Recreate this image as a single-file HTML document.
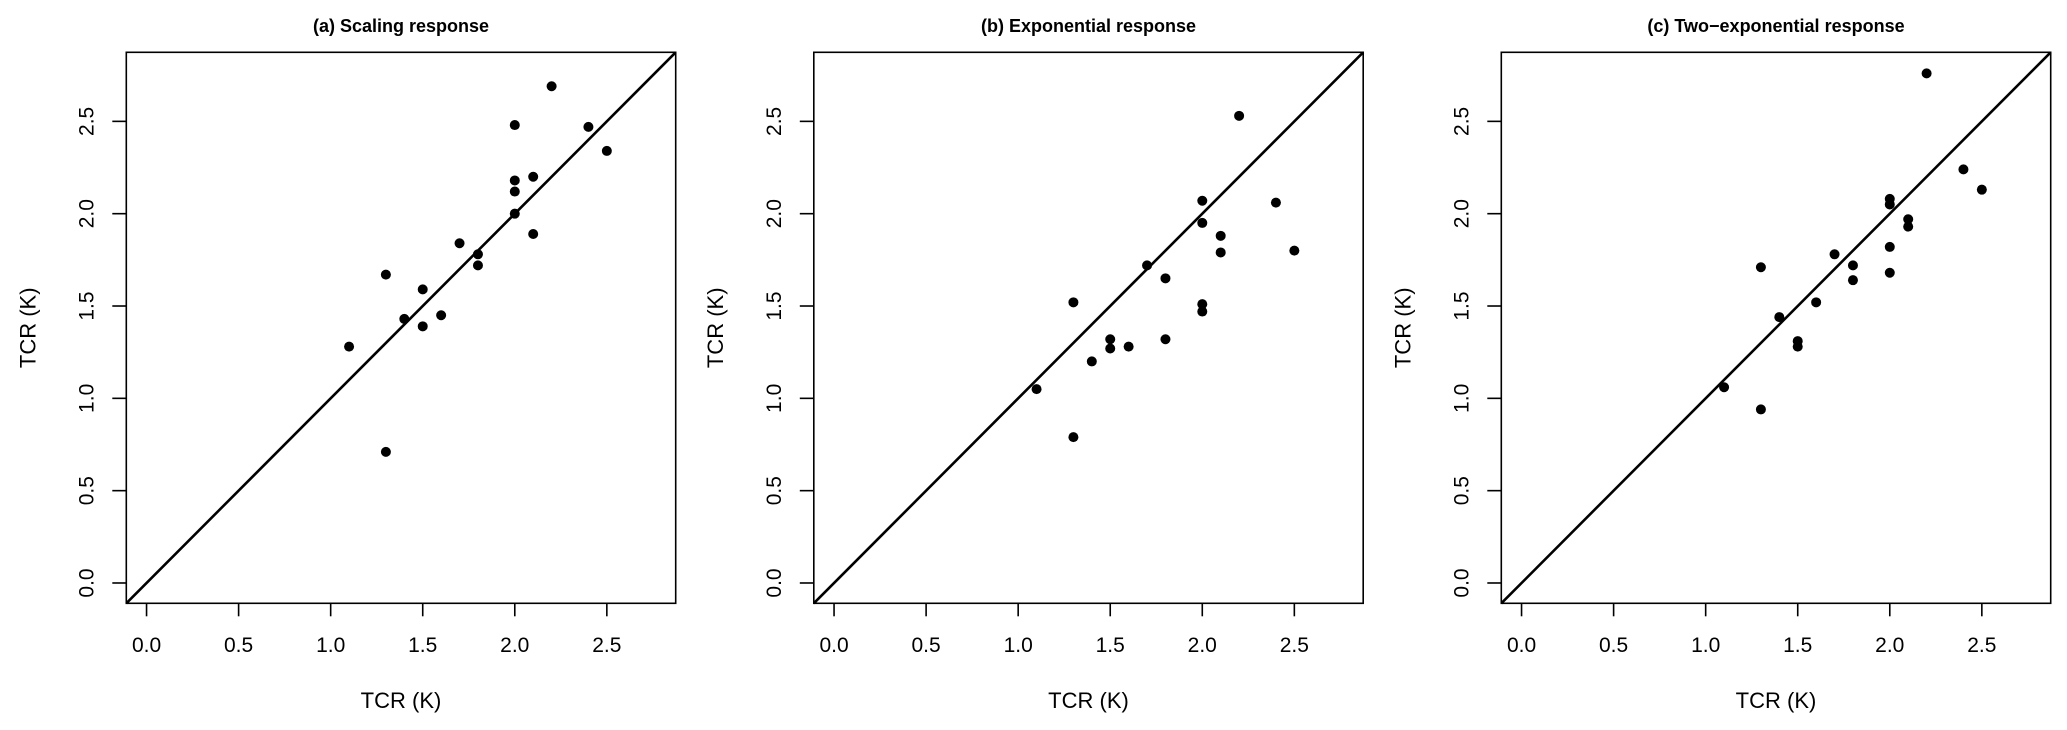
<!DOCTYPE html>
<html><head><meta charset="utf-8"><style>
html,body{margin:0;padding:0;background:#fff;}
svg{display:block;font-family:"Liberation Sans",Arial,sans-serif;}
</style></head><body>
<svg id="chart" width="2067" height="730" viewBox="0 0 2067 730" xmlns="http://www.w3.org/2000/svg"></svg>
<script>
const panelTitles = ["(a) Scaling response","(b) Exponential response","(c) Two\u2212exponential response"];
const tickValues = [0,0.5,1,1.5,2,2.5];
const tickLabels = ["0.0","0.5","1.0","1.5","2.0","2.5"];
const xValues = [1.1,1.3,1.3,1.4,1.5,1.5,1.6,1.7,1.8,1.8,2.0,2.0,2.0,2.0,2.1,2.1,2.2,2.4,2.5];
const yScaling = [1.28,1.67,0.71,1.43,1.59,1.39,1.45,1.84,1.78,1.72,2.48,2.18,2.12,2.00,2.20,1.89,2.69,2.47,2.34];
const yExponential = [1.05,1.52,0.79,1.20,1.32,1.27,1.28,1.72,1.65,1.32,2.07,1.95,1.51,1.47,1.88,1.79,2.53,2.06,1.80];
const yTwoExp = [1.06,1.71,0.94,1.44,1.31,1.28,1.52,1.78,1.72,1.64,2.08,2.05,1.82,1.68,1.97,1.93,2.76,2.24,2.13];
const series = [yScaling, yExponential, yTwoExp];
const axisLim = [-0.11, 2.874];

const chartSvg = document.getElementById('chart');
const SVGNS = 'http://www.w3.org/2000/svg';
function mk(tag, attrs, parent){const e=document.createElementNS(SVGNS,tag);for(const k in attrs)e.setAttribute(k,attrs[k]);parent.appendChild(e);return e;}

const boxW = 549.4, boxTop = 52.3, boxBottom = 603.3, panelStep = 687.5, firstLeft = 126.3;
for (let p=0;p<3;p++){
  const L = firstLeft + p*panelStep, R = L + boxW;
  const sx = v => L + (v-axisLim[0])/(axisLim[1]-axisLim[0])*(R-L);
  const sy = v => boxBottom - (v-axisLim[0])/(axisLim[1]-axisLim[0])*(boxBottom-boxTop);
  const g = mk('g',{},chartSvg);
  
  
  const t = mk('text',{x:(L+R)/2,y:32,'text-anchor':'middle','font-size':18,'font-weight':'bold'},g);
  t.textContent = panelTitles[p];
  
  
  const ln = mk('line',{x1:sx(axisLim[0]),y1:sy(axisLim[0]),x2:sx(axisLim[1]),y2:sy(axisLim[1]),stroke:'#000','stroke-width':2.6},g);
  
  
  const ys = series[p];
  for (let i=0;i<xValues.length;i++){
    const c = mk('circle',{cx:sx(xValues[i]),cy:sy(ys[i]),r:5,fill:'#000'},g);
    
    
  }
  const box = mk('rect',{x:L,y:boxTop,width:R-L,height:boxBottom-boxTop,fill:'none',stroke:'#000','stroke-width':1.6},g);
  
  
  const xa = mk('g',{},g);
  
  
  const ya = mk('g',{},g);
  
  
  tickValues.forEach((v,i)=>{
    mk('line',{x1:sx(v),y1:boxBottom,x2:sx(v),y2:boxBottom+13,stroke:'#000','stroke-width':1.6},xa);
    const tx = mk('text',{x:sx(v),y:652,'text-anchor':'middle','font-size':21},xa);
    tx.textContent = tickLabels[i];
    
    
    mk('line',{x1:L,y1:sy(v),x2:L-14,y2:sy(v),stroke:'#000','stroke-width':1.6},ya);
    const yx = L-33, yy = sy(v);
    const ty = mk('text',{x:yx,y:yy,'text-anchor':'middle','font-size':21,transform:`rotate(-90 ${yx} ${yy})`},ya);
    ty.textContent = tickLabels[i];
    
    
  });
  const xt = mk('text',{x:(L+R)/2,y:708,'text-anchor':'middle','font-size':22},g);
  xt.textContent = 'TCR (K)';
  
  
  const yxp = L-91, yyp = (boxTop+boxBottom)/2;
  const yt = mk('text',{x:yxp,y:yyp,'text-anchor':'middle','font-size':22,transform:`rotate(-90 ${yxp} ${yyp})`},g);
  yt.textContent = 'TCR (K)';
  
  
}
</script>
</body></html>
